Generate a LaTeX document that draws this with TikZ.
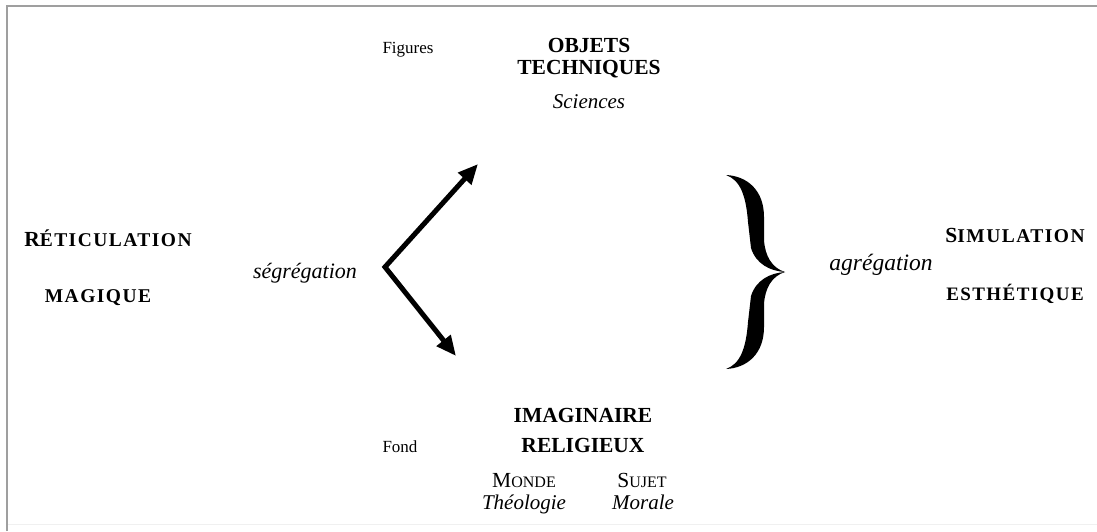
\documentclass[tikz,border=0pt]{standalone}
\usepackage{fontspec}
\setmainfont{Liberation Serif}
\newfontfamily\spacedfont[LetterSpace=7.5]{Liberation Serif}
\usetikzlibrary{arrows.meta}
\newcommand\fakesc[2]{{\fontsize{21.5}{25}\selectfont #1}{\spacedfont\bfseries\fontsize{19.5}{20}\selectfont #2}}
\newcommand\plainsc[2]{{\fontsize{21.5}{25}\selectfont #1}{\fontsize{16}{20}\selectfont #2}}
\begin{document}
\begin{tikzpicture}[x=1pt,y=-1pt,
  lbl/.style={inner sep=0pt,anchor=base},
  bold/.style={lbl,font=\fontsize{21.5}{24}\selectfont\bfseries},
  ital/.style={lbl,font=\fontsize{21}{24}\selectfont\itshape},
  small/.style={lbl,font=\fontsize{17}{19}\selectfont},
  sc/.style={lbl,font=\bfseries},
  scr/.style={lbl},
  arr/.style={line width=5pt,line join=miter,
    {Triangle[length=20pt,width=17pt]}-{Triangle[length=20pt,width=17pt]}},
  frame/.style={draw=gray!75,line width=2pt}]
\useasboundingbox (0,0) rectangle (1097,531);
\fill[white] (0,0) rectangle (1097,531);
\draw[frame] (7,531) -- (7,6) -- (1097,6);
\draw[gray!12,line width=1pt] (8,524) -- (1097,524);

% top group
\node[small] (fig) at (408,53) {Figures};
\node[bold] (obj) at (589,52) {OBJETS};
\node[bold] (tech) at (589,74) {TECHNIQUES};
\node[ital] (sci) at (589,108) {Sciences};

% left
\node[sc] (ret) at (108,246) {\fakesc{R}{ÉTICULATION}};
\node[sc] (mag) at (98,302) {\spacedfont\bfseries\fontsize{19.5}{20}\selectfont MAGIQUE};
\node[ital,font=\fontsize{22}{24}\selectfont\itshape] (seg) at (305,278) {ségrégation};

% arrows
\coordinate (v) at (385,267);
\coordinate (up) at (478,164);
\coordinate (dn) at (456,356);
\draw[arr] (up) -- (v) -- (dn);

% brace
\fill (726,175) .. controls (747,176) and (764,190) .. (764,217)
  -- (764,240) .. controls (765,256) and (772,268) .. (785,272)
  .. controls (770,271) and (756,264) .. (751,248)
  -- (748,222) .. controls (746,195) and (740,180) .. (726,175) -- cycle;
\fill (726,369) .. controls (747,368) and (764,354) .. (764,327)
  -- (764,304) .. controls (765,288) and (772,276) .. (785,272)
  .. controls (770,273) and (756,280) .. (751,296)
  -- (748,322) .. controls (746,349) and (740,364) .. (726,369) -- cycle;

% right
\node[ital,font=\fontsize{23.5}{26}\selectfont\itshape] (agr) at (881,270) {agrégation};
\node[sc] (sim) at (1015,242) {\fakesc{S}{IMULATION}};
\node[sc] (est) at (1015,300) {\spacedfont\bfseries\fontsize{19}{20}\selectfont ESTHÉTIQUE};

% bottom group
\node[small] (fond) at (400,452) {Fond};
\node[bold] (ima) at (583,422) {IMAGINAIRE};
\node[bold] (rel) at (583,452) {RELIGIEUX};
\node[scr] (mon) at (524,487) {\plainsc{M}{ONDE}};
\node[scr] (suj) at (642,487) {\plainsc{S}{UJET}};
\node[ital] (the) at (524,509) {Théologie};
\node[ital] (mor) at (643,509) {Morale};
\end{tikzpicture}
\end{document}
